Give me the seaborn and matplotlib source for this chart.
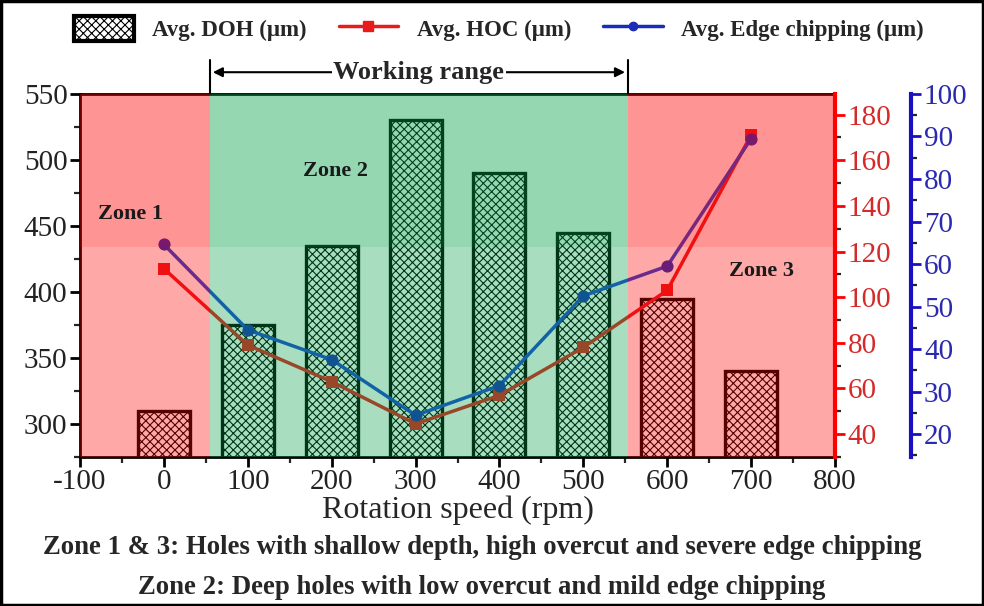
import matplotlib.pyplot as plt
import seaborn as sns
from matplotlib.patches import Patch, Rectangle
from matplotlib.lines import Line2D
from matplotlib.ticker import MultipleLocator

# data
speeds = [0, 100, 200, 300, 400, 500, 600, 700]
doh = [310, 375, 435, 530, 490, 445, 395, 340]
hoc = [112.5, 79, 63, 44.5, 57, 78, 103, 171]
chipping = [64.6, 44.5, 37.5, 24.4, 31.4, 52.5, 59.5, 89.5]

zone_edges = [-100, 55, 553, 800]
zone_colors = ["#ff0000", "#00a046", "#ff0000"]

sns.set_style("ticks")
plt.rcParams["font.family"] = ["Liberation Serif", "DejaVu Serif"]
plt.rcParams["hatch.linewidth"] = 0.8
plt.rcParams["axes.unicode_minus"] = False

fig = plt.figure(figsize=(9.84, 6.06), dpi=100)
ax = fig.add_axes([0.0813, 0.2459, 0.7673, 0.599])
ax2 = ax.twinx()
ax3 = ax.twinx()
ax3.spines["right"].set_position(("outward", 55))

# bars (depth of hole)
sns.barplot(x=speeds, y=doh, ax=ax, native_scale=True, width=0.62,
            fill=False, color="black", linewidth=2.4, err_kws={"linewidth": 0})
for p in ax.patches:
    p.set_hatch("xxxx")
    p.set_edgecolor("black")

# lines
sns.lineplot(x=speeds, y=hoc, ax=ax2, color="#e81a1a", marker="s", markersize=8,
             markeredgewidth=0, linewidth=2.5)
sns.lineplot(x=speeds, y=chipping, ax=ax3, color="#1a44d8", marker="o", markersize=8,
             markeredgecolor="#1a2cb8", markerfacecolor="#1a2cb8", linewidth=2.5)

# zone overlays on top of everything
split = 0.578
for i, c in enumerate(zone_colors):
    ax3.axvspan(zone_edges[i], zone_edges[i + 1], ymin=split, ymax=1, color=c,
                alpha=0.42, lw=0, zorder=10)
    ax3.axvspan(zone_edges[i], zone_edges[i + 1], ymin=0, ymax=split, color=c,
                alpha=0.34, lw=0, zorder=10)

ax.set_xlim(-100, 800)
ax.set_ylim(275, 550)
ax2.set_ylim(30, 189)
ax3.set_ylim(14.6, 100)

ax.xaxis.set_major_locator(MultipleLocator(100))
ax.xaxis.set_minor_locator(MultipleLocator(50))
ax.yaxis.set_major_locator(MultipleLocator(50))
ax.yaxis.set_minor_locator(MultipleLocator(25))
ax2.yaxis.set_major_locator(MultipleLocator(20))
ax2.yaxis.set_minor_locator(MultipleLocator(10))
ax3.yaxis.set_major_locator(MultipleLocator(10))
ax3.yaxis.set_minor_locator(MultipleLocator(5))

for a in (ax, ax2, ax3):
    a.set_ylabel("")
    a.tick_params(which="major", direction="out", length=7, width=2, labelsize=21, pad=2)
    a.tick_params(which="minor", direction="out", length=4, width=1.6)
ax.set_xlabel("Rotation speed (rpm)", fontsize=23, labelpad=0)
ax.tick_params(axis="both", colors="black", labelcolor="#222222")
for s in ["left", "bottom", "top"]:
    ax.spines[s].set_linewidth(2)
    ax.spines[s].set_color("black")
ax.spines["right"].set_visible(False)

ax2.spines["right"].set_color("#ff0000")
ax2.spines["right"].set_linewidth(3)
ax2.tick_params(axis="y", colors="#ff0000", labelcolor="#d42a2a")
ax3.spines["right"].set_color("#1a10c0")
ax3.spines["right"].set_linewidth(3)
ax3.tick_params(axis="y", colors="#1a10c0", labelcolor="#2a2ab0")
for a in (ax2, ax3):
    for s in ["left", "top", "bottom"]:
        a.spines[s].set_visible(False)

# zone labels (placed on the top axis so the overlays do not tint them)
for x, y, t in [(-40, 459, "Zone 1"), (205, 492, "Zone 2"), (712, 416, "Zone 3")]:
    ax3.text(x, y, t, transform=ax.transData, fontsize=16, fontweight="bold",
             ha="center", va="center", color="#1a1a1a", zorder=20)

# working range marker
for xv in (55, 553):
    ax.plot([xv, xv], [1.0, 1.095], transform=ax.get_xaxis_transform(), color="black",
            lw=1.5, clip_on=False)
ax.annotate("", xy=(55, 1.06), xytext=(553, 1.06), xycoords=ax.get_xaxis_transform(),
            textcoords=ax.get_xaxis_transform(),
            arrowprops=dict(arrowstyle="<|-|>", color="black", lw=1.5, mutation_scale=14))
ax.text(304, 1.06, "Working range", transform=ax.get_xaxis_transform(), fontsize=19,
        fontweight="bold", ha="center", va="center",
        bbox=dict(facecolor="white", edgecolor="none", pad=1))

# legend
handles = [
    Patch(facecolor="white", edgecolor="black", hatch="xxxx", linewidth=3),
    Line2D([], [], color="#e81a1a", marker="s", markersize=7, lw=2.5),
    Line2D([], [], color="#1a2cb8", marker="o", markersize=6, lw=2.5),
]
labels = ["Avg. DOH (μm)", "Avg. HOC (μm)", "Avg. Edge chipping (μm)"]
fig.legend(handles, labels, loc="center", bbox_to_anchor=(0.507, 0.953), ncol=3,
           frameon=False, prop={"size": 16.5, "weight": "bold"}, handlelength=2.6,
           handleheight=1.3, columnspacing=1.4, handletextpad=0.8)

fig.text(0.49, 0.097, "Zone 1 & 3: Holes with shallow depth, high overcut and severe edge chipping",
         ha="center", va="center", fontsize=19.3, fontweight="bold")
fig.text(0.49, 0.031, "Zone 2: Deep holes with low overcut and mild edge chipping",
         ha="center", va="center", fontsize=19.3, fontweight="bold")

fig.patches.append(Rectangle((0.001, 0.001), 0.998, 0.998, transform=fig.transFigure,
                             fill=False, edgecolor="black", lw=2.5))

fig.savefig("out.png", dpi=100)
